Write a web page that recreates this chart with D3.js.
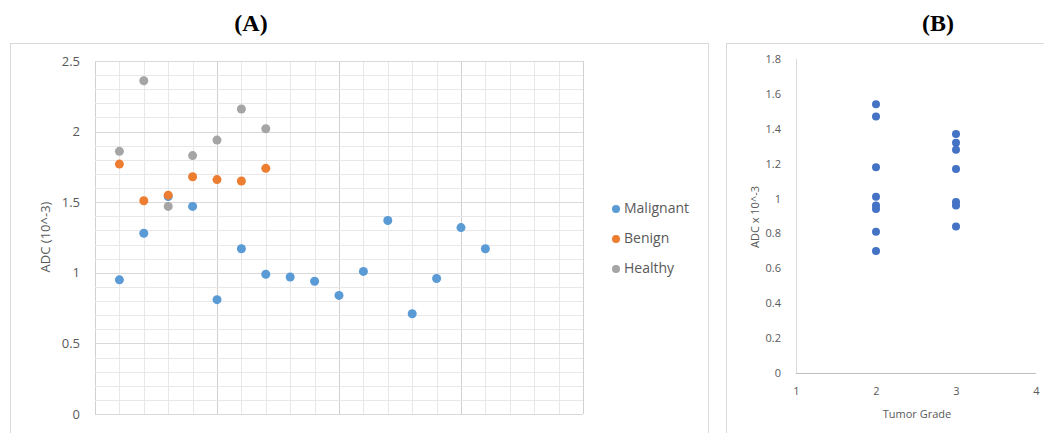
<!DOCTYPE html>
<html>
<meta charset="utf-8">
<head>
<style>
body { margin: 0; background: #fff; }
text { font-family: "Open Sans", sans-serif; fill: #595959; }
.title { font-family: "Liberation Serif", serif; font-weight: bold; fill: #000; font-size: 24px; }
</style>
</head>
<body>
<svg width="1044" height="433"></svg>
<script src="https://cdn.jsdelivr.net/npm/d3@7"></script>
<script>

// panel A: ADC by case index
var caseIdx = [1,2,3,4,5,6,7,8,9,10,11,12,13,14,15,16];
var malignant = [0.95,1.28,1.54,1.47,0.81,1.17,0.99,0.97,0.94,0.84,1.01,1.37,0.71,0.96,1.32,1.17];
var benign = [1.77,1.51,1.55,1.68,1.66,1.65,1.74];
var healthy = [1.86,2.36,1.47,1.83,1.94,2.16,2.02];
var seriesNames = ["Malignant","Benign","Healthy"];
var seriesColors = ["#5b9bd5","#ed7d31","#a5a5a5"];
var yTicksA = [0,0.5,1,1.5,2,2.5];

// panel B: ADC by tumor grade
var grade2 = [1.54,1.47,1.18,1.01,0.96,0.94,0.81,0.70];
var grade3 = [1.37,1.32,1.28,1.17,0.98,0.96,0.84];
var yTicksB = [0,0.2,0.4,0.6,0.8,1,1.2,1.4,1.6,1.8];
var xTicksB = [1,2,3,4];

var svg = d3.select("svg");

// titles
svg.append("text").attr("class","title").attr("x",251).attr("y",31).attr("text-anchor","middle").text("(A)");
svg.append("text").attr("class","title").attr("x",938).attr("y",31).attr("text-anchor","middle").text("(B)");

// chart boxes
svg.append("rect").attr("x",10.5).attr("y",43.5).attr("width",698).attr("height",400)
    .attr("fill","none").attr("stroke","#d9d9d9");
svg.append("rect").attr("x",726.5).attr("y",43.5).attr("width",330).attr("height",400)
    .attr("fill","none").attr("stroke","#d9d9d9");

// ---- panel A ----
var xA = d3.scaleLinear().domain([0,20]).range([95,583]);
var yA = d3.scaleLinear().domain([0,2.5]).range([414,61]);

var gA = svg.append("g");

// grid, major every 5 minor steps
gA.selectAll("line.minx").data(d3.range(0,21)).enter().append("line")
    .attr("x1", function(d){ return Math.round(xA(d))+0.5; })
    .attr("x2", function(d){ return Math.round(xA(d))+0.5; })
    .attr("y1", yA(0)).attr("y2", yA(2.5))
    .attr("stroke", function(d){ return d%5==0 ? "#d0d0d0" : "#e8e8e8"; });
gA.selectAll("line.miny").data(d3.range(0,26)).enter().append("line")
    .attr("y1", function(d){ return Math.round(yA(d/10))+0.5; })
    .attr("y2", function(d){ return Math.round(yA(d/10))+0.5; })
    .attr("x1", xA(0)).attr("x2", xA(20))
    .attr("stroke", function(d){ return d%5==0 ? "#d9d9d9" : "#e8e8e8"; });

gA.append("g").attr("transform","translate(83,0)")
    .call(d3.axisLeft(yA).tickValues(yTicksA).tickSize(0).tickFormat(d3.format("")))
    .call(function(g){ g.select(".domain").remove(); })
    .selectAll("text").style("font-size","13px").attr("fill","#595959");

svg.append("text").attr("transform","translate(50,237) rotate(-90)")
    .attr("text-anchor","middle").style("font-size","13px").text("ADC (10^-3)");

var allA = [malignant, benign, healthy];
allA.forEach(function(vals, s){
  gA.selectAll("circle.s"+s).data(vals).enter().append("circle")
      .attr("cx", function(d,i){ return xA(caseIdx[i]); })
      .attr("cy", function(d){ return yA(d); })
      .attr("r", 4.5)
      .attr("fill", seriesColors[s]);
});

// legend
var leg = svg.append("g");
seriesNames.forEach(function(n, i){
  leg.append("circle").attr("cx",616).attr("cy",209+i*30).attr("r",4).attr("fill",seriesColors[i]);
  leg.append("text").attr("x",624).attr("y",213+i*30).style("font-size","14px").text(n);
});

// ---- panel B ----
var xB = d3.scaleLinear().domain([1,4]).range([796,1036]);
var yB = d3.scaleLinear().domain([0,1.8]).range([373,59]);

var gB = svg.append("g");
gB.append("line").attr("x1",796.5).attr("x2",796.5).attr("y1",yB(1.8)).attr("y2",yB(0)).attr("stroke","#d9d9d9");
gB.append("line").attr("x1",796).attr("x2",1036).attr("y1",373.5).attr("y2",373.5).attr("stroke","#bfbfbf");

gB.append("g").attr("transform","translate(784,0)")
    .call(d3.axisLeft(yB).tickValues(yTicksB).tickSize(0).tickFormat(d3.format("")))
    .call(function(g){ g.select(".domain").remove(); })
    .selectAll("text").style("font-size","11px").attr("fill","#595959");

gB.append("g").attr("transform","translate(0,384)")
    .call(d3.axisBottom(xB).tickValues(xTicksB).tickSize(0).tickFormat(d3.format("d")))
    .call(function(g){ g.select(".domain").remove(); })
    .selectAll("text").style("font-size","11px").attr("fill","#595959");

svg.append("text").attr("x",917).attr("y",418).attr("text-anchor","middle")
    .style("font-size","11px").text("Tumor Grade");
svg.append("text").attr("transform","translate(759,217) rotate(-90)")
    .attr("text-anchor","middle").style("font-size","11px").text("ADC x 10^-3");

[[2, grade2],[3, grade3]].forEach(function(g){
  gB.selectAll(null).data(g[1]).enter().append("circle")
      .attr("cx", xB(g[0]))
      .attr("cy", function(d){ return yB(d); })
      .attr("r", 4)
      .attr("fill", "#4472c4");
});

</script>
</body>
</html>
